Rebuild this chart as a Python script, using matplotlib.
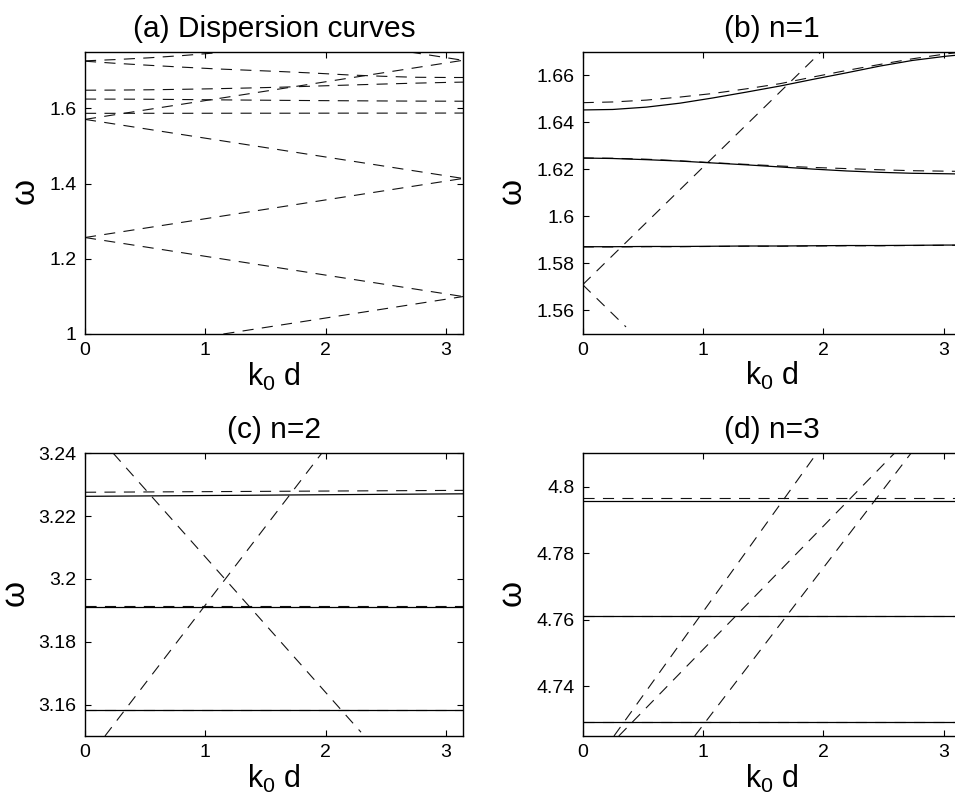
import numpy as np
import matplotlib
matplotlib.use('Agg')
import matplotlib.pyplot as plt

plt.rcParams['font.family'] = ['Liberation Sans', 'DejaVu Sans']
plt.rcParams['mathtext.default'] = 'regular'
plt.rcParams['lines.scale_dashes'] = False

# ---------------- data ----------------
titles = ['(a) Dispersion curves', '(b) n=1', '(c) n=2', '(d) n=3']
x_label = r'k$_0$ d'
y_label = r'$\omega$'
x_ticks = [0, 1, 2, 3]

# k grid for the guided-mode curves
k_grid = [0, 0.25, 0.53, 0.81, 1.08, 1.36, 1.64, 1.91, 2.19, 2.47, 2.74, 3.02, 3.1416]

# n = 1 modes: dashed (approximate) and solid (exact)
n1_upper_dashed = [1.6484, 1.6487, 1.6495, 1.6508, 1.6523, 1.6543, 1.6565, 1.6593,
                   1.6621, 1.6647, 1.6671, 1.6692, 1.6699]
n1_upper_solid = [1.6453, 1.6455, 1.6465, 1.6482, 1.6504, 1.6529, 1.6555, 1.6583,
                  1.6611, 1.6640, 1.6664, 1.6682, 1.6688]
n1_mid_dashed = [1.6248, 1.6247, 1.6243, 1.6236, 1.6228, 1.6221, 1.6214, 1.6208,
                 1.6203, 1.6198, 1.6194, 1.6192, 1.6191]
n1_mid_solid = [1.6248, 1.6246, 1.6241, 1.6235, 1.6227, 1.6219, 1.6210, 1.6201,
                1.6193, 1.6187, 1.6183, 1.6181, 1.6180]
n1_low_dashed = [1.5869, 1.5869, 1.5870, 1.5870, 1.5871, 1.5872, 1.5872, 1.5873,
                 1.5874, 1.5874, 1.5875, 1.5876, 1.5876]
n1_low_solid = [1.5870, 1.5870, 1.5871, 1.5871, 1.5872, 1.5873, 1.5873, 1.5874,
                1.5875, 1.5875, 1.5876, 1.5877, 1.5877]

# higher modes visible only in panel (a)
a_mode4 = [1.7255, 1.7200, 1.7147, 1.7097, 1.7052, 1.7015, 1.6978, 1.6938,
           1.6890, 1.6855, 1.6828, 1.6822, 1.6822]
a_mode5_k = [0, 0.25, 0.53, 0.81, 1.08, 1.36]
a_mode5 = [1.7265, 1.7298, 1.7345, 1.7405, 1.7475, 1.7550]

# folded light lines (start k, start w, end k, end w)
a_light_k0 = [1.15, 0.0, 0.0, 0.0, 0.0, 2.70]
a_light_w0 = [1.0, 1.2566, 1.2566, 1.5708, 1.5708, 1.75]
a_light_k1 = [3.1416, 3.1416, 3.1416, 3.1416, 3.1416, 3.1416]
a_light_w1 = [1.0996, 1.0996, 1.4137, 1.4137, 1.7279, 1.7279]

b_light_k0 = [0.0, 0.0]
b_light_w0 = [1.5708, 1.5708]
b_light_k1 = [1.98, 0.36]
b_light_w1 = [1.67, 1.5528]

# n = 2
c_k = [0, 3.1416]
c_upper_dashed = [3.2276, 3.2282]
c_upper_solid = [3.2263, 3.2271]
c_mid_dashed = [3.1914, 3.1914]
c_mid_solid = [3.1911, 3.1911]
c_low_dashed = [3.1584, 3.1584]
c_low_solid = [3.1582, 3.1582]
c_light_k0 = [0.235, 0.166]
c_light_w0 = [3.24, 3.15]
c_light_k1 = [2.294, 1.967]
c_light_w1 = [3.1512, 3.24]

# n = 3
d_k = [0, 3.1416]
d_upper_dashed = [4.7965, 4.7965]
d_upper_solid = [4.7956, 4.7956]
d_mid_dashed = [4.7612, 4.7612]
d_mid_solid = [4.7610, 4.7610]
d_low_dashed = [4.7293, 4.7293]
d_low_solid = [4.7291, 4.7291]
d_light_k0 = [0.26, 0.30, 0.931]
d_light_w0 = [4.725, 4.725, 4.725]
d_light_k1 = [1.945, 2.59, 2.728]
d_light_w1 = [4.81, 4.81, 4.81]

# ---------------- figure ----------------
W, H = 955, 801
fig = plt.figure(figsize=(W / 100, H / 100), dpi=100)

def px_axes(x0, y0, x1, y1):
    return fig.add_axes([x0 / W, 1 - y1 / H, (x1 - x0) / W, (y1 - y0) / H])

axw = 378.0
ax_a = px_axes(85, 52, 85 + axw, 334)
ax_b = px_axes(582.7, 52, 582.7 + axw, 333.5)
ax_c = px_axes(85, 453.3, 85 + axw, 736)
ax_d = px_axes(582.7, 453.3, 582.7 + axw, 736)

DASH = dict(color='#111111', lw=0.8, linestyle=(0, (8.0, 6.0)))
SOLID = dict(color='black', lw=0.9, linestyle='-')

def light(ax, k0, w0, k1, w1):
    for a, b, c, d in zip(k0, w0, k1, w1):
        ax.plot([a, c], [b, d], **DASH)

# (a)
light(ax_a, a_light_k0, a_light_w0, a_light_k1, a_light_w1)
for ys in (n1_upper_dashed, n1_mid_dashed, n1_low_dashed, a_mode4):
    ax_a.plot(k_grid, ys, **DASH)
ax_a.plot(a_mode5_k, a_mode5, **DASH)
ax_a.set_ylim(1.0, 1.75)
ax_a.set_yticks([1.0, 1.2, 1.4, 1.6])
ax_a.set_yticklabels(['1', '1.2', '1.4', '1.6'])

# (b)
light(ax_b, b_light_k0, b_light_w0, b_light_k1, b_light_w1)
for ys in (n1_upper_dashed, n1_mid_dashed, n1_low_dashed):
    ax_b.plot(k_grid, ys, **DASH)
for ys in (n1_upper_solid, n1_mid_solid, n1_low_solid):
    ax_b.plot(k_grid, ys, **SOLID)
ax_b.set_ylim(1.55, 1.67)
ax_b.set_yticks([1.56, 1.58, 1.60, 1.62, 1.64, 1.66])
ax_b.set_yticklabels(['1.56', '1.58', '1.6', '1.62', '1.64', '1.66'])

# (c)
light(ax_c, c_light_k0, c_light_w0, c_light_k1, c_light_w1)
for ys in (c_upper_dashed, c_mid_dashed, c_low_dashed):
    ax_c.plot(c_k, ys, **DASH)
for ys in (c_upper_solid, c_mid_solid, c_low_solid):
    ax_c.plot(c_k, ys, **SOLID)
ax_c.set_ylim(3.15, 3.24)
ax_c.set_yticks([3.16, 3.18, 3.20, 3.22, 3.24])
ax_c.set_yticklabels(['3.16', '3.18', '3.2', '3.22', '3.24'])

# (d)
light(ax_d, d_light_k0, d_light_w0, d_light_k1, d_light_w1)
for ys in (d_upper_dashed, d_mid_dashed, d_low_dashed):
    ax_d.plot(d_k, ys, **DASH)
for ys in (d_upper_solid, d_mid_solid, d_low_solid):
    ax_d.plot(d_k, ys, **SOLID)
ax_d.set_ylim(4.725, 4.81)
ax_d.set_yticks([4.74, 4.76, 4.78, 4.80])
ax_d.set_yticklabels(['4.74', '4.76', '4.78', '4.8'])

for ax, t in zip((ax_a, ax_b, ax_c, ax_d), titles):
    ax.set_xlim(0, np.pi)
    ax.set_xticks(x_ticks)
    ax.set_xticklabels([str(v) for v in x_ticks])
    ax.tick_params(direction='in', top=True, right=True, length=4, width=0.8,
                   labelsize=14, pad=6, colors='black')
    for s in ax.spines.values():
        s.set_linewidth(1.0)
    ax.set_title(t, fontsize=21.5, pad=11)
    ax.set_xlabel(x_label, fontsize=22, labelpad=1)
    ax.set_ylabel(y_label, fontsize=24, labelpad=5)

fig.savefig('out.png', dpi=100)
